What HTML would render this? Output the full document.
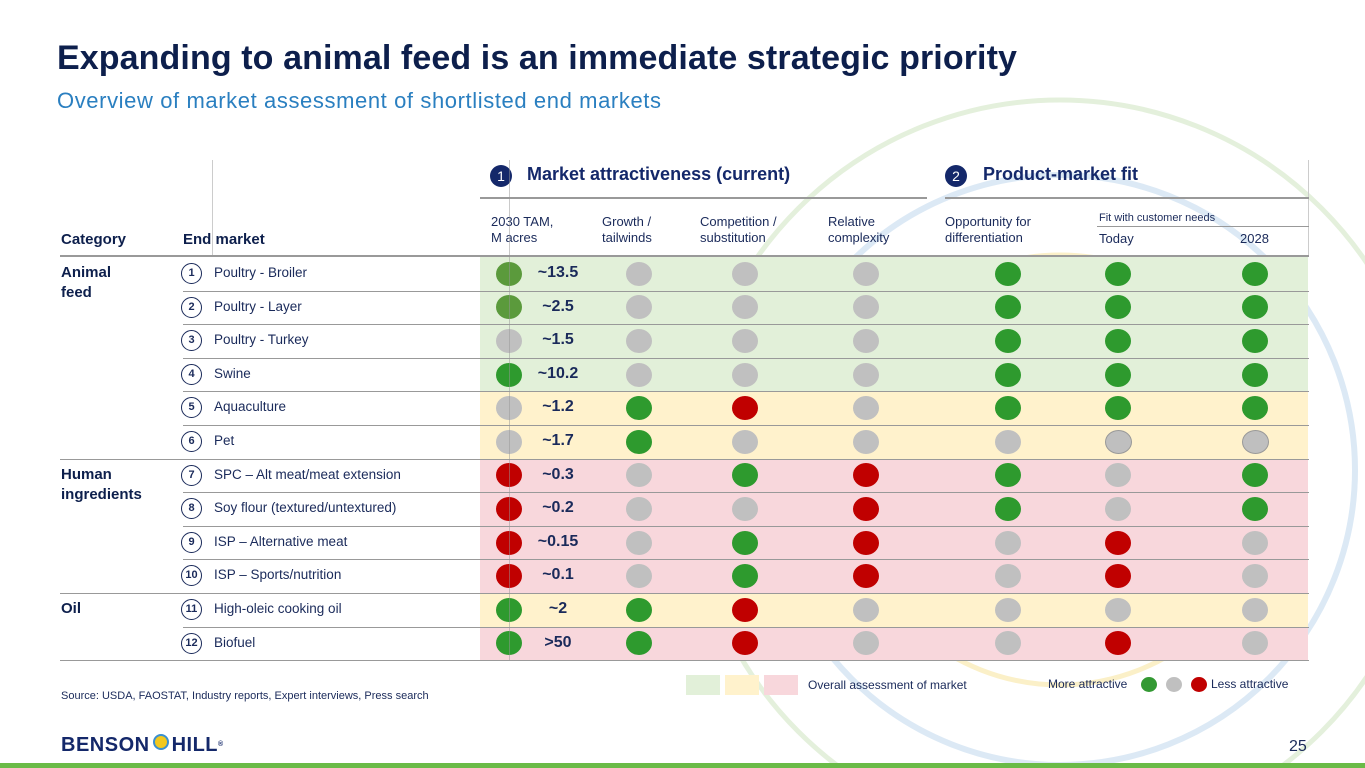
<!DOCTYPE html>
<html><head><meta charset="utf-8">
<style>
html,body{margin:0;width:1365px;height:768px;overflow:hidden;}
body{position:relative;background:#fff;font-family:"Liberation Sans",sans-serif;}
.a{position:absolute;}
.t{position:absolute;white-space:nowrap;}
.hdr{color:#1a2a5a;font-size:13px;line-height:16px;}
.dot{position:absolute;width:26px;height:24px;border-radius:50%;}
.num{position:absolute;width:19px;height:19px;border:1px solid #1a2a5a;border-radius:50%;font-size:11px;font-weight:bold;color:#1a2a5a;text-align:center;line-height:19px;background:#fff;}
.val{position:absolute;width:60px;text-align:center;font-size:16px;font-weight:bold;color:#1a2a5a;}
.lbl{position:absolute;font-size:13.5px;color:#1a2a5a;}
.cat{position:absolute;font-size:15px;font-weight:bold;color:#0d1f4c;line-height:20px;}
</style></head><body>
<svg class="a" style="left:0;top:0" width="1365" height="768">
<circle cx="1060" cy="470" r="295" fill="none" stroke="#dce9f5" stroke-width="6"/>
<circle cx="1060" cy="470" r="215" fill="none" stroke="#fbf0c8" stroke-width="5"/>
<circle cx="1060" cy="470" r="370" fill="none" stroke="#e4f0dc" stroke-width="5"/>
</svg>
<div class="t" style="left:57px;top:39px;font-size:34px;font-weight:bold;color:#0d1f4c;letter-spacing:0.1px">Expanding to animal feed is an immediate strategic priority</div>
<div class="t" style="left:57px;top:88px;font-size:22px;letter-spacing:0.6px;color:#2a7fc0;">Overview of market assessment of shortlisted end markets</div>

<div class="a" style="left:212px;top:160px;width:1px;height:96px;background:#ccc"></div>
<div class="a" style="left:1308px;top:160px;width:1px;height:96px;background:#ccc"></div>
<div class="a" style="left:490px;top:165px;width:22px;height:22px;border-radius:50%;background:#14286a;color:#fff;font-size:14px;text-align:center;line-height:22px">1</div>
<div class="t" style="left:527px;top:164px;font-size:18px;font-weight:bold;color:#14286a">Market attractiveness (current)</div>
<div class="a" style="left:945px;top:165px;width:22px;height:22px;border-radius:50%;background:#14286a;color:#fff;font-size:14px;text-align:center;line-height:22px">2</div>
<div class="t" style="left:983px;top:164px;font-size:18px;font-weight:bold;color:#14286a">Product-market fit</div>
<div class="a" style="left:480px;top:197px;width:447px;height:2px;background:#999"></div>
<div class="a" style="left:945px;top:197px;width:364px;height:2px;background:#999"></div>
<div class="a" style="left:1097px;top:226px;width:212px;height:1px;background:#999"></div>
<div class="t hdr" style="left:491px;top:214px">2030 TAM,<br>M acres</div>
<div class="t hdr" style="left:602px;top:214px">Growth /<br>tailwinds</div>
<div class="t hdr" style="left:700px;top:214px">Competition /<br>substitution</div>
<div class="t hdr" style="left:828px;top:214px">Relative<br>complexity</div>
<div class="t hdr" style="left:945px;top:214px">Opportunity for<br>differentiation</div>
<div class="t" style="left:1099px;top:212px;font-size:11px;color:#1a2a5a">Fit with customer needs</div>
<div class="t hdr" style="left:1099px;top:231px">Today</div>
<div class="t hdr" style="left:1240px;top:231px">2028</div>
<div class="t" style="left:61px;top:231px;font-size:15px;font-weight:bold;color:#0d1f4c">Category</div>
<div class="t" style="left:183px;top:231px;font-size:15px;font-weight:bold;color:#0d1f4c">End market</div>
<div class="a" style="left:60px;top:255px;width:1249px;height:2px;background:#999"></div>

<div id="rows"></div>

<div class="a" style="left:686px;top:675px;width:34px;height:20px;background:#e2f0d9"></div>
<div class="a" style="left:725px;top:675px;width:34px;height:20px;background:#fff2cc"></div>
<div class="a" style="left:764px;top:675px;width:34px;height:20px;background:#f8d7dc"></div>
<div class="t" style="left:808px;top:678px;font-size:12px;color:#1a2a5a">Overall assessment of market</div>
<div class="t" style="left:1048px;top:677px;font-size:12px;color:#1a2a5a">More attractive</div>
<div class="dot" style="left:1141px;top:677px;width:16px;height:15px;background:#339933"></div>
<div class="dot" style="left:1166px;top:677px;width:16px;height:15px;background:#c0c0c0"></div>
<div class="dot" style="left:1191px;top:677px;width:16px;height:15px;background:#c00000"></div>
<div class="t" style="left:1211px;top:677px;font-size:12px;color:#1a2a5a">Less attractive</div>
<div class="t" style="left:61px;top:690px;font-size:11px;color:#1a2a5a">Source: USDA, FAOSTAT, Industry reports, Expert interviews, Press search</div>
<div class="t" style="left:61px;top:734px;font-size:20px;line-height:22px;font-weight:bold;color:#14286a;letter-spacing:0.5px">BENSON<span style="display:inline-block;width:12px;height:12px;border-radius:50%;background:#f2c81e;border:2px solid #3a8fd0;margin:0 3px;vertical-align:1px"></span>HILL<span style="font-size:7px;vertical-align:top">®</span></div>
<div class="t" style="left:1289px;top:738px;font-size:16px;color:#1a2a5a">25</div>
<div class="a" style="left:0;top:763px;width:1365px;height:5px;background:#6abb47"></div>

<script>
const markets=["Poultry - Broiler","Poultry - Layer","Poultry - Turkey","Swine","Aquaculture","Pet","SPC – Alt meat/meat extension","Soy flour (textured/untextured)","ISP – Alternative meat","ISP – Sports/nutrition","High-oleic cooking oil","Biofuel"];
const tamValues=["~13.5","~2.5","~1.5","~10.2","~1.2","~1.7","~0.3","~0.2","~0.15","~0.1","~2",">50"];
const overall=["g","g","g","g","y","y","p","p","p","p","y","p"];
const ratings=[
"OgggGGG","OgggGGG","ggggGGG","GgggGGG","gGRgGGG","gGgggss",
"RgGRGgG","RggRGgG","RgGRgRg","RgGRgRg","GGRgggg","GGRggRg"];
const categories=[["Animal<br>feed",0],["Human<br>ingredients",6],["Oil",10]];
const bgC={g:"#e2f0d9",y:"#fff2cc",p:"#f8d7dc"};
const dotC={G:"#2e9a2e",O:"#5b9a3c",g:"#c0c0c0",s:"#bfbfbf",R:"#c00000"};
const colX=[509,639,745,866,1008,1118,1255];
const top0=257,rowH=33.6;
const c=document.getElementById('rows');
function rowY(i){return top0+i*rowH;}
markets.forEach((m,i)=>{
  const y=rowY(i);
  const bg=document.createElement('div');bg.className='a';
  
  
  const gap=(i>0&&overall[i]!==overall[i-1])?1:0;
  bg.style.cssText=`left:480px;top:${y+gap}px;width:828px;height:${rowH-gap}px;background:${bgC[overall[i]]}`;
  c.appendChild(bg);
  const isCatStart=categories.some(k=>k[1]===i);
  if(i>0){const ln=document.createElement('div');ln.className='a';
    ln.style.cssText=`left:${isCatStart?60:183}px;top:${Math.round(y)}px;width:${isCatStart?1249:1126}px;height:1px;background:#999`;c.appendChild(ln);}
  const n=document.createElement('div');n.className='num';
  
  
  n.style.left='181px';n.style.top=(y+6)+'px';n.textContent=i+1;c.appendChild(n);
  const l=document.createElement('div');l.className='lbl';
  
  
  l.style.left='214px';l.style.top=(y+8)+'px';l.textContent=m;c.appendChild(l);
  ratings[i].split('').forEach((r,j)=>{
    const d=document.createElement('div');d.className='dot';
    
    
    d.style.left=(colX[j]-13)+'px';d.style.top=(y+(rowH-24)/2)+'px';d.style.background=dotC[r];
    if(r==='s')d.style.border='1px solid #999',d.style.width='25px',d.style.height='22px';
    c.appendChild(d);
  });
  const v=document.createElement('div');v.className='val';
  
  
  v.style.left='528px';v.style.top=(y+7)+'px';v.textContent=tamValues[i];c.appendChild(v);
});
const end=document.createElement('div');end.className='a';
end.style.cssText=`left:60px;top:${Math.round(rowY(12))}px;width:1249px;height:1px;background:#999`;c.appendChild(end);
categories.forEach(k=>{const d=document.createElement('div');d.className='cat';
  
  
  d.style.left='61px';d.style.top=(rowY(k[1])+6)+'px';d.innerHTML=k[0];c.appendChild(d);});
const vl=document.createElement('div');vl.className='a';
vl.style.cssText=`left:509px;top:160px;width:1px;height:${rowY(12)-160}px;background:rgba(150,150,150,0.5)`;c.appendChild(vl);
</script>
</body></html>
